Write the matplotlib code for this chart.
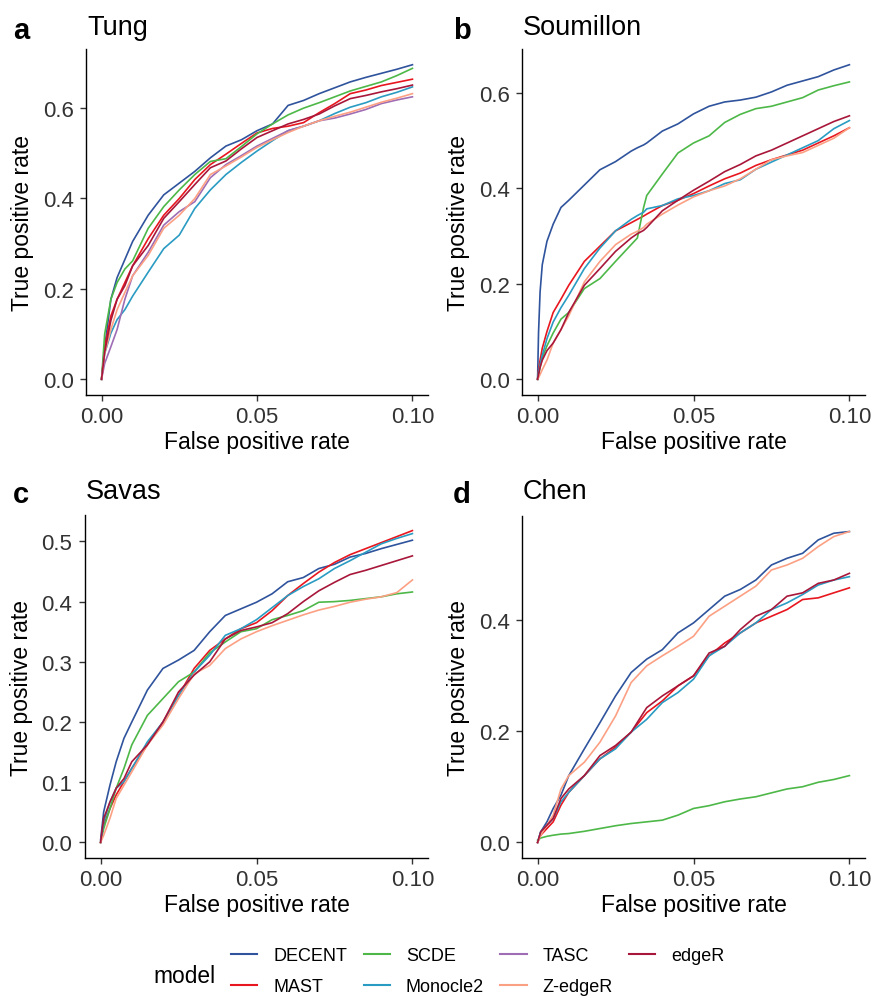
import numpy as np
import matplotlib
matplotlib.use("Agg")
import matplotlib.pyplot as plt

plt.rcParams["font.family"] = ["Liberation Sans", "DejaVu Sans"]

# ---- data ----
models = ["DECENT", "MAST", "SCDE", "Monocle2", "TASC", "Z-edgeR", "edgeR"]
colors = {"DECENT": "#2F539C", "MAST": "#E8161E", "SCDE": "#4DB848", "Monocle2": "#2A9BC2",
          "TASC": "#9E6DB5", "Z-edgeR": "#FCA084", "edgeR": "#A8173A"}

fpr_std = [0, .001, .003, .005, .0075, .01, .015, .02, .025, .03, .035, .04,
           .045, .05, .055, .06, .065, .07, .075, .08, .085, .09, .095, .1]

# a: Tung
tung_decent = [0, .07, .177, .225, .265, .305, .363, .408, .434, .46, .49, .516, .53, .55, .565, .606, .617, .632, .645, .658, .668, .677, .686, .696]
tung_scde = [0, .10, .177, .214, .244, .262, .334, .382, .419, .453, .482, .488, .515, .543, .565, .585, .6, .612, .625, .638, .648, .658, .672, .688]
tung_mast = [0, .07, .14, .177, .214, .251, .311, .363, .40, .442, .475, .498, .522, .545, .555, .56, .568, .59, .61, .632, .64, .65, .657, .664]
tung_edger = [0, .06, .13, .177, .207, .251, .296, .356, .393, .431, .468, .483, .51, .535, .55, .565, .575, .587, .605, .621, .628, .636, .643, .651]
tung_monocle2 = [0, .057, .102, .132, .154, .184, .237, .289, .319, .378, .419, .453, .48, .505, .528, .55, .56, .572, .588, .602, .612, .625, .635, .647]
tung_tasc = [0, .035, .072, .11, .177, .229, .281, .341, .371, .393, .446, .475, .495, .516, .533, .55, .56, .572, .578, .587, .597, .61, .618, .625]
tung_zedger = [0, .057, .11, .154, .192, .229, .274, .334, .363, .40, .453, .472, .492, .513, .53, .546, .56, .572, .582, .591, .602, .613, .622, .632]

# b: Soumillon (finer grid near zero)
fpr_soum = [0, .0003, .0008, .0015, .003, .005, .0075, .01, .015, .02, .025, .03, .032, .034,
            .035, .04, .045, .05, .055, .06, .065, .07, .075, .08, .085, .09, .095, .1]
soum_decent = [0, .097, .183, .24, .289, .325, .36, .375, .407, .439, .456, .478, .485, .491, .495, .52, .535, .556, .572, .581, .585, .591, .602, .616, .625, .634, .648, .659]
soum_scde = [0, .01, .025, .045, .07, .097, .126, .14, .19, .211, .247, .282, .296, .36, .385, .43, .474, .495, .51, .538, .555, .567, .572, .581, .59, .606, .615, .623]
soum_mast = [0, .02, .04, .065, .10, .14, .168, .197, .247, .279, .311, .328, .335, .342, .346, .364, .375, .389, .405, .42, .432, .448, .46, .47, .48, .495, .51, .527]
soum_monocle2 = [0, .015, .03, .05, .085, .12, .15, .176, .232, .275, .311, .335, .343, .35, .357, .364, .378, .385, .395, .41, .418, .44, .455, .47, .485, .50, .525, .542]
soum_zedger = [0, .003, .01, .02, .04, .076, .104, .133, .204, .247, .282, .304, .31, .318, .325, .346, .365, .382, .395, .405, .42, .44, .46, .468, .475, .49, .505, .527]
soum_edger = [0, .01, .025, .04, .06, .076, .104, .14, .197, .232, .268, .296, .305, .312, .318, .353, .375, .396, .415, .435, .45, .468, .48, .495, .51, .525, .54, .552]

# c: Savas
savas_decent = [.004, .051, .095, .134, .173, .20, .253, .289, .303, .319, .35, .377, .388, .399, .413, .433, .44, .455, .462, .474, .48, .488, .495, .502]
savas_mast = [0, .029, .056, .079, .101, .123, .162, .20, .244, .289, .319, .338, .355, .365, .385, .41, .43, .449, .465, .478, .488, .498, .508, .518]
savas_monocle2 = [0, .034, .067, .09, .101, .123, .167, .20, .244, .283, .311, .344, .355, .37, .39, .41, .425, .438, .455, .468, .482, .496, .505, .513]
savas_edger = [0, .04, .067, .09, .106, .134, .162, .20, .25, .278, .30, .338, .352, .358, .365, .38, .40, .418, .432, .445, .452, .46, .468, .476]
savas_scde = [0, .023, .056, .09, .123, .162, .211, .239, .267, .283, .315, .333, .35, .355, .37, .377, .385, .399, .40, .402, .405, .408, .413, .416]
savas_zedger = [0, .012, .04, .073, .095, .117, .162, .195, .239, .28, .294, .322, .338, .35, .36, .369, .378, .386, .392, .399, .404, .408, .415, .436]

# d: Chen
chen_decent = [0, .019, .037, .061, .085, .12, .168, .215, .263, .305, .329, .346, .376, .394, .418, .442, .454, .471, .498, .51, .519, .543, .555, .558]
chen_zedger = [0, .013, .031, .049, .096, .12, .144, .18, .227, .287, .317, .335, .352, .37, .406, .424, .442, .46, .489, .498, .51, .531, .549, .558]
chen_edger = [0, .019, .031, .043, .079, .096, .12, .156, .174, .198, .242, .263, .281, .299, .34, .352, .382, .406, .418, .442, .448, .465, .471, .483]
chen_monocle2 = [0, .019, .031, .043, .073, .09, .12, .15, .168, .198, .221, .251, .269, .293, .335, .352, .376, .394, .418, .43, .445, .462, .471, .477]
chen_mast = [0, .013, .025, .037, .067, .09, .12, .15, .171, .198, .233, .254, .281, .299, .335, .358, .376, .394, .406, .418, .436, .439, .448, .457]
chen_scde = [.004, .008, .011, .013, .015, .016, .02, .025, .03, .034, .037, .04, .049, .061, .066, .073, .078, .082, .089, .096, .10, .108, .113, .12]

panels = [
    ("a", "Tung", fpr_std, {"DECENT": tung_decent, "SCDE": tung_scde, "MAST": tung_mast, "edgeR": tung_edger,
                            "Monocle2": tung_monocle2, "TASC": tung_tasc, "Z-edgeR": tung_zedger},
     [0, .2, .4, .6], (86, 50, 428, 396)),
    ("b", "Soumillon", fpr_soum, {"DECENT": soum_decent, "SCDE": soum_scde, "MAST": soum_mast,
                                  "Monocle2": soum_monocle2, "Z-edgeR": soum_zedger, "edgeR": soum_edger},
     [0, .2, .4, .6], (522, 50, 865, 396)),
    ("c", "Savas", fpr_std, {"DECENT": savas_decent, "SCDE": savas_scde, "MAST": savas_mast,
                             "Monocle2": savas_monocle2, "Z-edgeR": savas_zedger, "edgeR": savas_edger},
     [0, .1, .2, .3, .4, .5], (85, 516, 428, 859)),
    ("d", "Chen", fpr_std, {"DECENT": chen_decent, "SCDE": chen_scde, "MAST": chen_mast,
                            "Monocle2": chen_monocle2, "Z-edgeR": chen_zedger, "edgeR": chen_edger},
     [0, .2, .4], (522, 517, 865, 859)),
]

W, H = 876, 1004
fig = plt.figure(figsize=(W / 100, H / 100), dpi=100)

for letter, name, fpr, curves, yt, (x0, y0, x1, y1) in panels:
    ax = fig.add_axes([x0 / W, 1 - y1 / H, (x1 - x0) / W, (y1 - y0) / H])
    for m in models:
        if m in curves:
            ax.plot(fpr, curves[m], color=colors[m], lw=1.2)
    ax.margins(0.05)
    ax.set_xticks([0, .05, .1])
    ax.set_xticklabels(["0.00", "0.05", "0.10"])
    ax.set_yticks(yt)
    ax.set_yticklabels([f"{v:.1f}" for v in yt])
    for s in ("top", "right"):
        ax.spines[s].set_visible(False)
    for s in ("left", "bottom"):
        ax.spines[s].set_linewidth(1.0)
    ax.tick_params(length=4, width=1.0, labelsize=16, colors="#333333", pad=4)
    ax.tick_params(axis="y", pad=5)
    ax.set_xlabel("False positive rate", fontsize=16.5, va="center")
    ax.set_ylabel("True positive rate", fontsize=16.5, va="center")
    ax.xaxis.set_label_coords(0.5, -47 / (y1 - y0))
    ax.yaxis.set_label_coords(-63 / (x1 - x0), 0.5)
    tb = 35 if y0 < 100 else 499
    fig.text((x0 + 1) / W, 1 - tb / H, name, fontsize=19.5, va="baseline", ha="left")
    fig.text((13 if x0 < 200 else 453) / W, 1 - (tb + 4) / H, letter, fontsize=21,
             fontweight="bold", va="baseline", ha="left")

handles = [plt.Line2D([], [], color=colors[m], lw=1.5) for m in models]
fig.legend(handles, models, ncol=4, loc="upper left", bbox_to_anchor=(231 / W, 1 - 948 / H),
           frameon=False, fontsize=13, handlelength=1.45, handletextpad=0.9,
           columnspacing=0.9, labelspacing=0.8, borderpad=0, borderaxespad=0)
fig.text(153 / W, 1 - 977 / H, "model", fontsize=16.4, va="center", ha="left")

fig.savefig("out.png", dpi=100)
